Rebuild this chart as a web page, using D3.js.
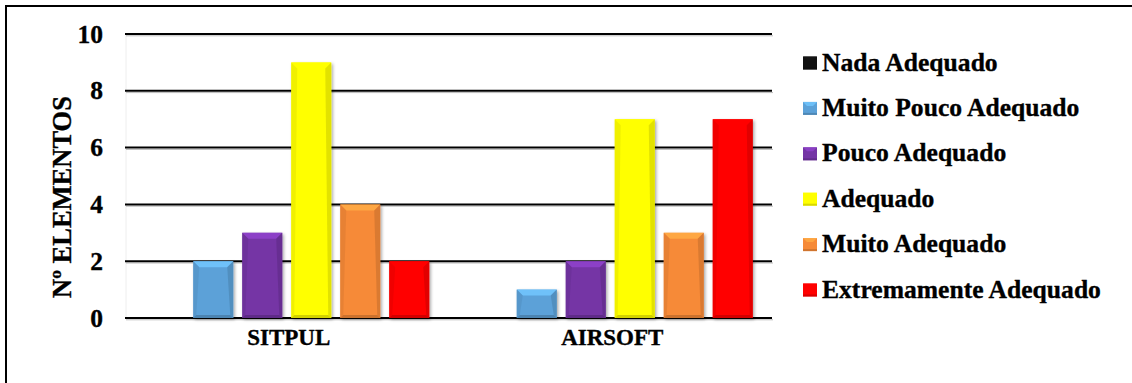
<!DOCTYPE html>
<html>
  <head>
    <title>Nº Elementos</title>
    <meta charset="utf-8" />
    <script src="https://cdn.jsdelivr.net/npm/d3@7"></script>
    <style>
      body {
        margin: 0;
        background: #fff;
        font-family: "Liberation Serif", "Times New Roman", serif;
      }
      text {
        font-weight: bold;
        fill: #000;
        stroke: #000;
        stroke-width: 0.35px;
      }
    </style>
  </head>
  <body>
  <script>
    var categories = ["SITPUL", "AIRSOFT"];
    var series = [
      "Nada Adequado",
      "Muito Pouco Adequado",
      "Pouco Adequado",
      "Adequado",
      "Muito Adequado",
      "Extremamente Adequado",
    ];
    var sitpulValues = [0, 2, 3, 9, 4, 2];
    var airsoftValues = [0, 1, 2, 7, 3, 7];
    var yTicks = [0, 2, 4, 6, 8, 10];
    var colors = ["#111111", "#5ca1d8", "#7435a5", "#ffff00", "#f68a38", "#ff0000"];

    var data = [];
    categories.forEach(function (c, i) {
      var vals = i === 0 ? sitpulValues : airsoftValues;
      series.forEach(function (s, j) {
        data.push({ category: c, series: s, value: vals[j], color: colors[j] });
      });
    });

    var svg = d3
      .select("body")
      .append("svg")
      .attr("width", 1132)
      .attr("height", 383);

    var defs = svg.append("defs");
    var shadow = defs
      .append("filter")
      .attr("id", "shadow")
      .attr("x", "-20%")
      .attr("y", "-20%")
      .attr("width", "150%")
      .attr("height", "150%");
    shadow
      .append("feDropShadow")
      .attr("dx", 1.5)
      .attr("dy", 1.5)
      .attr("stdDeviation", 1.5)
      .attr("flood-color", "#000")
      .attr("flood-opacity", 0.35);

    // frame (only top and left edges are visible)
    svg
      .append("rect")
      .attr("x", 6)
      .attr("y", 6)
      .attr("width", 1200)
      .attr("height", 500)
      .attr("fill", "none")
      .attr("stroke", "#000")
      .attr("stroke-width", 2);

    var x0 = d3.scaleBand().domain(categories).range([125, 772]);
    var x1 = d3
      .scaleBand()
      .domain(series)
      .range([0, x0.bandwidth()])
      .paddingInner(0.1837)
      .paddingOuter(0.393);
    var y = d3.scaleLinear().domain([0, 10]).range([318, 34]);

    // faint axis line
    svg
      .append("line")
      .attr("x1", 126)
      .attr("x2", 126)
      .attr("y1", y(10))
      .attr("y2", y(0))
      .attr("stroke", "#eeeeee")
      .attr("stroke-width", 1);

    // gridlines
    var grid = svg.append("g");
    grid
      .selectAll("line.shade")
      .data(yTicks)
      .enter()
      .append("line")
      .attr("class", "shade")
      .attr("x1", 126)
      .attr("x2", 773)
      .attr("y1", function (d) {
        return y(d) + 1.8;
      })
      .attr("y2", function (d) {
        return y(d) + 1.8;
      })
      .attr("stroke", "#bbbbbb")
      .attr("stroke-width", 1);
    grid
      .selectAll("line.grid")
      .data(yTicks)
      .enter()
      .append("line")
      .attr("class", "grid")
      .attr("x1", 125)
      .attr("x2", 772)
      .attr("y1", function (d) {
        return y(d);
      })
      .attr("y2", function (d) {
        return y(d);
      })
      .attr("stroke", "#000")
      .attr("stroke-width", 2);

    // y tick labels
    svg
      .selectAll("text.ytick")
      .data(yTicks)
      .enter()
      .append("text")
      .attr("class", "ytick")
      .attr("x", 103)
      .attr("y", function (d) {
        return y(d) + 8.5;
      })
      .attr("text-anchor", "end")
      .style("font-size", "25.5px")
      .text(function (d) {
        return d;
      });

    svg
      .append("text")
      .attr("transform", "translate(71,197) rotate(-90)")
      .attr("text-anchor", "middle")
      .style("font-size", "26.5px")
      .text("Nº ELEMENTOS");

    // bars with bevel
    function shade(c, k) {
      return k > 0 ? d3.color(c).brighter(k).formatHex() : d3.color(c).darker(-k).formatHex();
    }

    var bars = svg
      .selectAll("g.bar")
      .data(
        data.filter(function (d) {
          return d.value > 0;
        })
      )
      .enter()
      .append("g")
      .attr("class", "bar")
      .attr("transform", function (d) {
        return "translate(" + (x0(d.category) + x1(d.series)) + "," + y(d.value) + ")";
      });

    bars
      .append("rect")
      .attr("width", x1.bandwidth())
      .attr("height", function (d) {
        return y(0) - y(d.value);
      })
      .attr("fill", function (d) {
        return d.color;
      })
      .attr("filter", "url(#shadow)");

    var w = x1.bandwidth();
    var bv = 6;
    bars
      .append("polygon")
      .attr("points", function (d) {
        return [[0, 0], [w, 0], [w - bv, bv], [bv, bv]].join(" ");
      })
      .attr("fill", function (d) {
        return shade(d.color, 0.6);
      })
      .attr("opacity", 0.85);
    bars
      .append("polygon")
      .attr("points", function (d) {
        var h = y(0) - y(d.value);
        return [[0, 0], [bv, bv], [3, h - 3], [0, h]].join(" ");
      })
      .attr("fill", function (d) {
        return shade(d.color, -0.25);
      })
      .attr("opacity", 0.7);
    bars
      .append("polygon")
      .attr("points", function (d) {
        var h = y(0) - y(d.value);
        return [[w, 0], [w - bv, bv], [w - 3, h - 3], [w, h]].join(" ");
      })
      .attr("fill", function (d) {
        return shade(d.color, -0.5);
      })
      .attr("opacity", 0.7);
    bars
      .append("polygon")
      .attr("points", function (d) {
        var h = y(0) - y(d.value);
        return [[0, h], [3, h - 3], [w - 3, h - 3], [w, h]].join(" ");
      })
      .attr("fill", function (d) {
        return shade(d.color, -0.7);
      })
      .attr("opacity", 0.8);

    // category labels
    svg
      .selectAll("text.cat")
      .data(categories)
      .enter()
      .append("text")
      .attr("class", "cat")
      .attr("x", function (d) {
        return x0(d) + x0.bandwidth() / 2 + 2;
      })
      .attr("y", 345)
      .attr("text-anchor", "middle")
      .style("font-size", "23px")
      .text(function (d) {
        return d;
      });

    // legend
    var legend = svg
      .selectAll("g.legend")
      .data(series)
      .enter()
      .append("g")
      .attr("class", "legend")
      .attr("transform", function (d, i) {
        return "translate(803," + (63 + i * 45.4) + ")";
      });

    legend
      .append("rect")
      .attr("x", 0)
      .attr("y", -6.5)
      .attr("width", 14)
      .attr("height", 13)
      .attr("fill", function (d, i) {
        return colors[i];
      });
    legend
      .append("polygon")
      .attr("points", "0,-6.5 14,-6.5 10,-2.5 4,-2.5")
      .attr("fill", function (d, i) {
        return shade(colors[i], 0.6);
      })
      .attr("opacity", 0.8);
    legend
      .append("rect")
      .attr("x", 0)
      .attr("y", 4.5)
      .attr("width", 14)
      .attr("height", 2)
      .attr("fill", function (d, i) {
        return shade(colors[i], -0.7);
      })
      .attr("opacity", 0.7);

    legend
      .append("text")
      .attr("x", 19)
      .attr("y", 7.5)
      .style("font-size", "25.6px")
      .text(function (d) {
        return d;
      });
  </script>
  </body>
</html>
